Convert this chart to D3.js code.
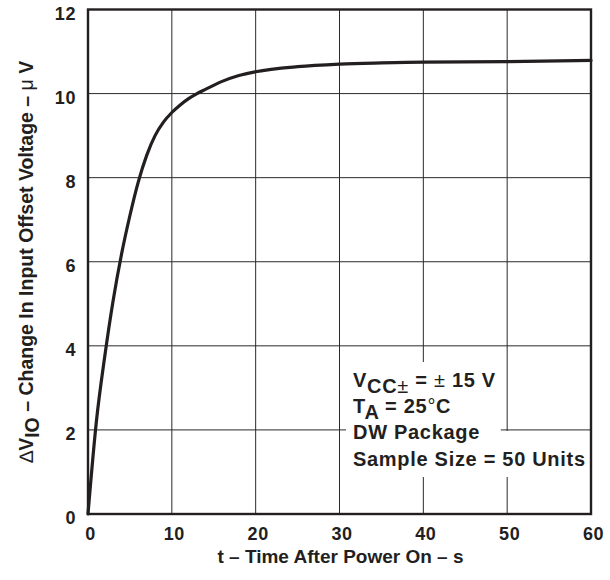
<!DOCTYPE html>
<html>
<head>
<meta charset="utf-8">
<script src="https://cdn.jsdelivr.net/npm/d3@7"></script>
<style>
  html, body { margin: 0; padding: 0; background: #fff; }
  svg { display: block; }
  text { font-family: "Liberation Sans", Arial, Helvetica, sans-serif; font-weight: bold; fill: #231f20; }
</style>
</head>
<body>
<div id="chart"></div>
<script>
// Data
const timeS    = [0, 1, 2, 3, 4, 5, 6, 7, 8, 9, 10, 11, 12, 13, 14, 16, 18, 20, 25, 30, 35, 40, 50, 60];
const deltaVio = [0, 2.2, 3.75, 5.08, 6.18, 7.1, 7.9, 8.53, 9.0, 9.32, 9.55, 9.73, 9.88, 10.0, 10.1, 10.29, 10.43, 10.52, 10.64, 10.7, 10.73, 10.75, 10.76, 10.79];
const xTicks = [0, 10, 20, 30, 40, 50, 60];
const yTicks = [0, 2, 4, 6, 8, 10, 12];
const legendLines = [
  [{t: "V"}, {t: "CC", sub: true}, {t: "±", sub: true, thin: true}, {t: " = "}, {t: "±", thin: true}, {t: " 15 V"}],
  [{t: "T"}, {t: "A", sub: true}, {t: " = 25"}, {t: "°", thin: true}, {t: "C"}],
  [{t: "DW Package"}],
  [{t: "Sample Size = 50 Units"}]
];

const W = 610, H = 580;
const m = {left: 88, top: 9.5, right: 19, bottom: 66};
const pw = W - m.left - m.right, ph = H - m.top - m.bottom;

const svg = d3.select("#chart").append("svg").attr("width", W).attr("height", H);
const g = svg.append("g").attr("transform", `translate(${m.left},${m.top})`);

const x = d3.scaleLinear().domain([0, 60]).range([0, pw]);
const y = d3.scaleLinear().domain([0, 12]).range([ph, 0]);

// grid
g.append("g").selectAll("line").data(xTicks.slice(1, -1)).join("line")
  .attr("x1", d => x(d)).attr("x2", d => x(d)).attr("y1", 0).attr("y2", ph)
  .attr("stroke", "#2a2a2a").attr("stroke-width", 1);
g.append("g").selectAll("line").data(yTicks.slice(1, -1)).join("line")
  .attr("y1", d => y(d)).attr("y2", d => y(d)).attr("x1", 0).attr("x2", pw)
  .attr("stroke", "#2a2a2a").attr("stroke-width", 1);

// tick labels via axes (no tick lines)
const xAxis = g.append("g").attr("transform", `translate(0,${ph})`)
  .call(d3.axisBottom(x).tickValues(xTicks).tickSize(0).tickPadding(0).tickFormat(d3.format("d")));
xAxis.select(".domain").remove();
xAxis.selectAll("text").attr("font-size", 18).attr("dy", null).attr("y", 26).attr("x", 2)
  .style("letter-spacing", "0.6px")
  .style("font-family", '"Liberation Sans", Arial, sans-serif').style("font-weight", "bold").attr("fill", "#231f20");

const yAxis = g.append("g")
  .call(d3.axisLeft(y).tickValues(yTicks).tickSize(0).tickPadding(0).tickFormat(d3.format("d")));
yAxis.select(".domain").remove();
yAxis.selectAll("text").attr("font-size", 18).attr("x", -12).attr("dy", "0.55em")
  .style("letter-spacing", "0.6px")
  .style("font-family", '"Liberation Sans", Arial, sans-serif').style("font-weight", "bold").attr("fill", "#231f20");

// legend (with white background)
const leg = g.append("g").attr("transform", `translate(${353 - m.left},0)`);
const baselines = [386.5, 412.5, 439, 465.5].map(v => v - m.top);
const texts = legendLines.map((parts, i) => {
  const t = leg.append("text").attr("x", 0).attr("y", baselines[i]).attr("font-size", 20)
    .style("letter-spacing", "0.7px");
  parts.forEach((p, j) => {
    const prevSub = j > 0 && parts[j - 1].sub;
    let dy = 0;
    if (p.sub && !prevSub) dy = 6;
    if (!p.sub && prevSub) dy = -6;
    const ts = t.append("tspan").text(p.t).attr("dy", dy);
    if (p.thin) ts.style("font-weight", "normal");
  });
  return t;
});
const bb = texts.map(t => t.node().getBBox());
const topW = Math.max(bb[0].width, bb[1].width);
const botW = Math.max(bb[2].width, bb[3].width);
leg.insert("rect", ":first-child")
  .attr("x", -7).attr("y", 362 - m.top).attr("width", topW + 12).attr("height", 115).attr("fill", "#fff");
leg.insert("rect", ":first-child")
  .attr("x", -7).attr("y", 431 - m.top).attr("width", Math.min(botW + 14, pw - (353 - m.left) + 7)).attr("height", 46).attr("fill", "#fff");

// frame
g.append("rect").attr("x", 0).attr("y", 0).attr("width", pw).attr("height", ph)
  .attr("fill", "none").attr("stroke", "#231f20").attr("stroke-width", 2.4);

// curve
const line = d3.line().x((d, i) => x(timeS[i])).y(d => y(d)).curve(d3.curveMonotoneX);
g.append("path").datum(deltaVio).attr("d", line)
  .attr("fill", "none").attr("stroke", "#231f20").attr("stroke-width", 3.2)
  .attr("stroke-linejoin", "round").attr("stroke-linecap", "round");

// x title
svg.append("text").attr("x", m.left + pw / 2 + 1).attr("y", 563).attr("text-anchor", "middle")
  .attr("font-size", 19).text("t – Time After Power On – s");

// y title
const yt = svg.append("text").attr("transform", `translate(33,${m.top + ph / 2}) rotate(-90)`)
  .attr("text-anchor", "middle").attr("font-size", 19.5);
yt.append("tspan").text("∆").style("font-weight", "normal");
yt.append("tspan").text("V");
yt.append("tspan").text("IO").attr("dy", 6);
yt.append("tspan").text(" – Change In Input Offset Voltage – ").attr("dy", -6);
yt.append("tspan").text("μ").style("font-weight", "normal");
yt.append("tspan").text(" V");
</script>
</body>
</html>
